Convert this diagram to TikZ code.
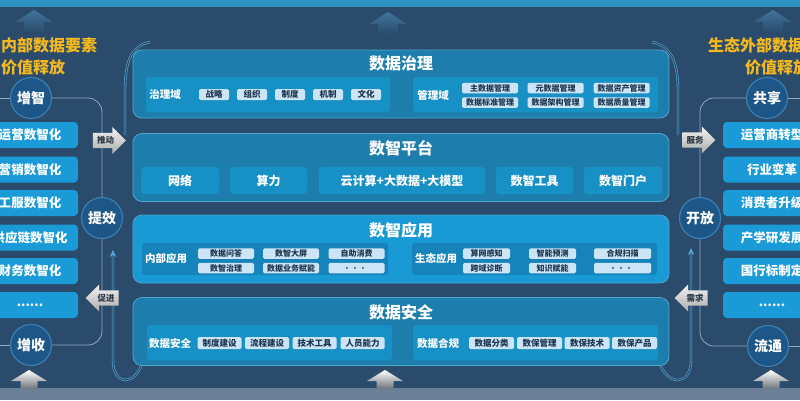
\documentclass[tikz,border=0pt]{standalone}
\usepackage{fontspec}
\setmainfont{Noto Sans CJK SC}
\usetikzlibrary{shapes.arrows,arrows.meta}
\newcommand\myfs[1]{\fontsize{#1bp}{#1bp}\selectfont}
\newcommand\sixdots{......}
\definecolor{bgc}{HTML}{2A4B6C}
\definecolor{topband}{HTML}{2C92C2}
\definecolor{botband}{HTML}{6B8097}
\definecolor{panelA}{HTML}{1D7EAD}
\definecolor{panelB}{HTML}{1A9AD5}
\definecolor{pedge}{HTML}{4FA6CF}
\definecolor{innerA}{HTML}{1790C6}
\definecolor{innerB}{HTML}{1683BA}
\definecolor{subfill}{HTML}{CCE5F6}
\definecolor{subtext}{HTML}{1E3550}
\definecolor{sideboxc}{HTML}{1A9BD8}
\definecolor{circfill}{HTML}{1E5687}
\definecolor{circedge}{HTML}{3C7FB2}
\definecolor{gold}{HTML}{F4B81E}
\definecolor{sidelinec}{HTML}{8DAAC2}
\definecolor{decoc}{HTML}{5DA8D6}
\definecolor{railc}{HTML}{4A7599}
\definecolor{tagtext}{HTML}{2D3A46}
\begin{document}
\begin{tikzpicture}[x=1bp,y=-1bp,
 panel/.style={draw=pedge, line width=0.8bp, rounded corners=9bp, minimum width=536bp, minimum height=68bp, inner sep=0},
 ptitle/.style={text=white, font=\myfs{16}\bfseries, inner sep=0},
 innerbox/.style={rounded corners=3bp, inner sep=0},
 lab/.style={text=white, font=\myfs{10.5}\bfseries, inner sep=0},
 sub/.style={fill=subfill, rounded corners=1.5bp, inner sep=0, minimum height=10.5bp, text=subtext, font=\myfs{8}\bfseries},
 btn/.style={fill=innerA, rounded corners=3bp, inner sep=0, minimum height=27bp, text=white, font=\myfs{12}\bfseries},
 sidebox/.style={fill=sideboxc, rounded corners=4bp, minimum height=26bp, inner sep=0, text=white, font=\myfs{12.5}\bfseries},
 circ/.style={circle, fill=circfill, draw=circedge, line width=1.2bp, minimum size=41bp, inner sep=0, text=white, font=\myfs{14}\bfseries},
 sline/.style={draw=sidelinec, line width=0.8bp},
 tag/.style={single arrow, single arrow head extend=4bp, minimum height=33bp, minimum width=27bp, inner sep=1bp, top color=white!90!gray, bottom color=gray!65!white, text=tagtext, font=\myfs{8.5}\bfseries},
 deco/.style={draw=decoc, line width=0.6bp, double=bgc, double distance=1.2bp},
 rail/.style={draw=railc, line width=0.6bp, double=bgc, double distance=1.5bp},
 gold title/.style={anchor=west, text=gold, font=\myfs{16}\bfseries, inner sep=0},
 bigarrow/.pic={\shade[top color=white, bottom color=gray!80!bgc] (-18,0) -- (0,-11) -- (18,0) -- (8.5,0) -- (8.5,7.5) -- (-8.5,7.5) -- (-8.5,0) -- cycle;},
 faintarrow/.pic={\shade[top color=decoc!45!bgc, bottom color=bgc] (-19,0) -- (0,-12) -- (19,0) -- (10,0) -- (10,10) -- (-10,10) -- (-10,0) -- cycle;}
]
\path[use as bounding box] (0,0) rectangle (800,400);
\clip (0,0) rectangle (800,400);
\fill[bgc] (0,0) rectangle (800,400);
\fill[topband] (0,0) rectangle (800,7);
\fill[botband] (0,388) rectangle (800,400);
% faint top arrows
\pic at (34,22) {faintarrow};
\pic at (388,24) {faintarrow};
\pic at (773,22) {faintarrow};
% rails and decorative curves
\draw[rail] (160,40) -- (160,385);
\draw[rail] (644,40) -- (644,385);
\draw[deco] (150,42) .. controls (131,46) and (125,62) .. (125,90) -- (125,135);
\draw[deco] (652,42) .. controls (671,46) and (678,62) .. (678,90) -- (678,135);
\draw[deco, -{Stealth[length=7bp,width=6bp]}] (142,364) .. controls (134,386) and (113,386) .. (113,360) -- (113,250);
\draw[deco, -{Stealth[length=7bp,width=6bp]}] (660,364) .. controls (668,386) and (691,386) .. (691,360) -- (691,248);
% bottom arrows
\pic at (29,381) {bigarrow};
\pic at (385,381) {bigarrow};
\pic at (771,381) {bigarrow};
% panel 1
\node[panel, fill=panelA] (p1) at (401,84) {};
\node[ptitle] (t1) at (401,63) {数据治理};
\node[innerbox, fill=innerA, minimum width=244bp, minimum height=35bp] (i1l) at (268,94.5) {};
\node[innerbox, fill=innerA, minimum width=245bp, minimum height=35bp] (i1r) at (535.5,94.5) {};
\node[lab] (l1l) at (165,94.5) {治理域};
\node[lab] (l1r) at (433,95) {管理域};
\foreach \t [count=\i] in {战略,组织,制度,机制,文化}
  \node[sub, minimum width=30bp, minimum height=11bp, font=\myfs{8.5}\bfseries] (g\i) at ({176+38*\i},94.5) {\t};
\foreach \t/\x/\y [count=\i] in {主数据管理/490/88, 元数据管理/555.5/88, 数据资产管理/621.5/88, 数据标准管理/490/102.5, 数据架构管理/555.5/102.5, 数据质量管理/621.5/102.5}
  \node[sub, minimum width=56bp] (m\i) at (\x,\y) {\t};
% panel 2
\node[panel, fill=panelA] (p2) at (401,167.5) {};
\node[ptitle] (t2) at (401,148) {数智平台};
\node[btn, minimum width=78bp] (b1) at (180,180.5) {网络};
\node[btn, minimum width=77bp] (b2) at (268.5,180.5) {算力};
\node[btn, minimum width=166bp] (b3) at (402,180.5) {云计算+大数据+大模型};
\node[btn, minimum width=77bp] (b4) at (534.5,180.5) {数智工具};
\node[btn, minimum width=78bp] (b5) at (623,180.5) {数智门户};
% panel 3
\node[panel, fill=panelB] (p3) at (401,249) {};
\node[ptitle] (t3) at (401,230) {数智应用};
\node[innerbox, fill=innerB, minimum width=246bp, minimum height=32bp] (i3l) at (265,259) {};
\node[innerbox, fill=innerB, minimum width=245bp, minimum height=32bp] (i3r) at (534.5,259) {};
\node[lab] (l3l) at (166,258.5) {内部应用};
\node[lab] (l3r) at (436,258.5) {生态应用};
\foreach \t/\x/\y [count=\i] in {数据问答/226/253.5, 数智大屏/291/253.5, 自助消费/356.5/253.5, 数智治理/226/268, 数据业务赋能/291/268, {．．．}/356.5/268}
  \node[sub, minimum width=56bp] (a\i) at (\x,\y) {\t};
\foreach \t/\x/\y/\w [count=\i] in {算网感知/486.5/253.5/47, 智能预测/552.5/253.5/47, 合规扫描/622.5/253.5/57, 跨域诊断/486.5/268/47, 知识赋能/552.5/268/47, {．．．}/622.5/268/57}
  \node[sub, minimum width=\w bp] (e\i) at (\x,\y) {\t};
% panel 4
\node[panel, fill=panelA] (p4) at (401,331.5) {};
\node[ptitle] (t4) at (401,312) {数据安全};
\node[innerbox, fill=innerA, minimum width=245bp, minimum height=35bp] (i4l) at (269.5,342.5) {};
\node[innerbox, fill=innerA, minimum width=245bp, minimum height=35bp] (i4r) at (535.5,342.5) {};
\node[lab] (l4l) at (170,343) {数据安全};
\node[lab] (l4r) at (438,343) {数据合规};
\foreach \t/\x [count=\i] in {制度建设/219.5, 流程建设/267, 技术工具/314.5, 人员能力/362.5}
  \node[sub, minimum width=44bp, minimum height=12bp, font=\myfs{8.5}\bfseries] (s\i) at (\x,343) {\t};
\foreach \t/\x [count=\i] in {数据分类/491.5, 数保管理/539.5, 数保技术/587, 数保产品/634.5}
  \node[sub, minimum width=45bp, minimum height=12bp, font=\myfs{8.5}\bfseries] (c\i) at (\x,343) {\t};
% left column
\node[gold title] (lt1) at (1,45) {内部数据要素};
\node[gold title] (lt2) at (1,67) {价值释放};
\node[circ] (zz) at (31,98) {增智};
\node[circ] (tx) at (102,218) {提效};
\node[circ] (zs) at (31,345) {增收};
\draw[sline] (0,98) -- (zz.west);
\draw[sline, rounded corners=14bp] (zz.east) -- (102,98) -- (tx.north);
\draw[sline, rounded corners=14bp] (tx.south) -- (102,345) -- (zs.east);
\draw[sline] (zs.west) -- (0,345);
\foreach \t/\y [count=\i] in {运营数智化/135, 营销数智化/169.5, 工服数智化/203, 供应链数智化/237.5, 财务数智化/271, \sixdots/305}
  \node[sidebox, minimum width=96bp] (lb\i) at (30,\y) {\t};
% right column
\node[gold title] (rt1) at (708,45) {生态外部数据};
\node[gold title] (rt2) at (745,67) {价值释放};
\node[circ] (ks) at (767,98) {共享};
\node[circ] (kf) at (700,218) {开放};
\node[circ] (lt) at (768,346) {流通};
\draw[sline] (ks.east) -- (800,98);
\draw[sline, rounded corners=14bp] (ks.west) -- (700,98) -- (kf.north);
\draw[sline, rounded corners=14bp] (kf.south) -- (700,346) -- (lt.west);
\draw[sline] (lt.east) -- (800,346);
\foreach \t/\y [count=\i] in {运营商转型/135, 行业变革/169.5, 消费者升级/203, 产学研发展/237.5, 国行标制定/271, \sixdots/305}
  \node[sidebox, minimum width=98bp] (rb\i) at (772,\y) {\t};
% tags
\node[tag] (tg1) at (105.5,140.5) {推动};
\node[tag, shape border rotate=180] (tg2) at (106,298) {促进};
\node[tag] (tg3) at (695,140) {服务};
\node[tag, shape border rotate=180] (tg4) at (695,298) {需求};
\end{tikzpicture}
\end{document}
